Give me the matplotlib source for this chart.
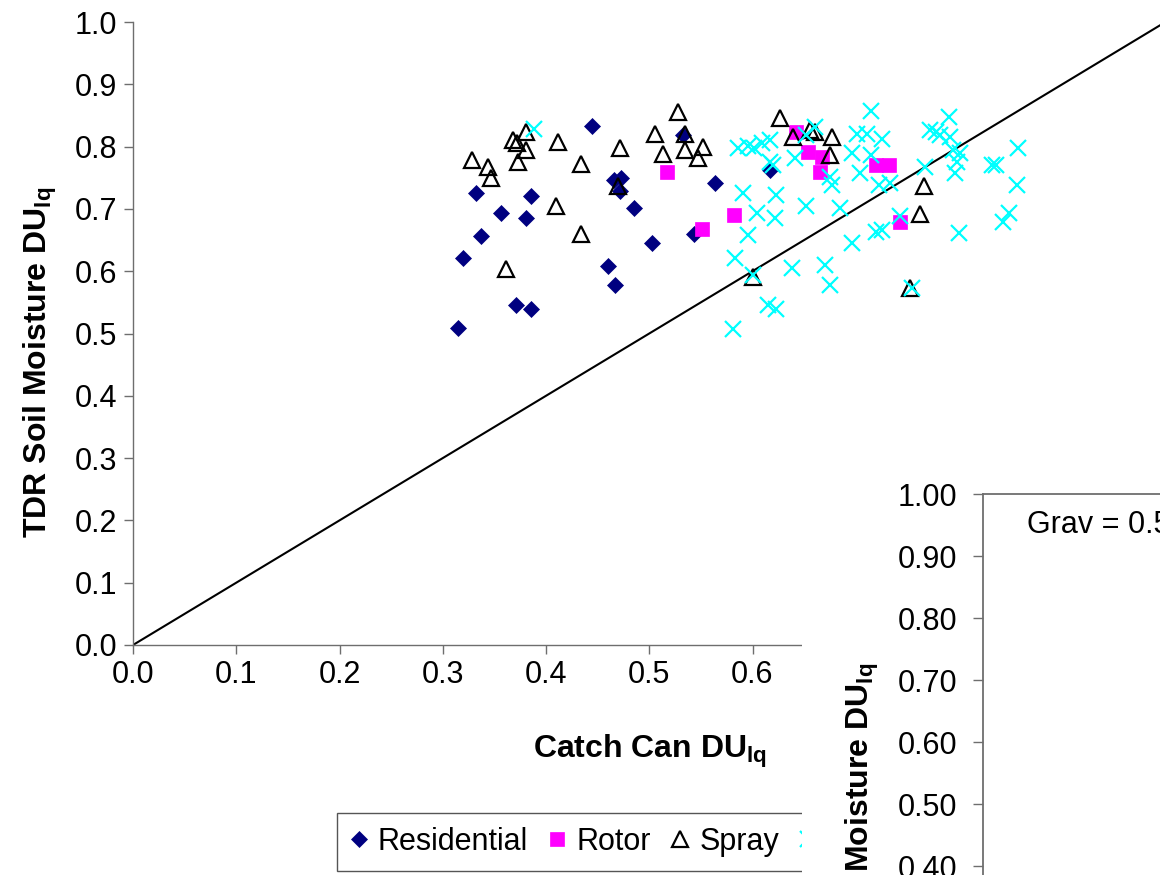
import matplotlib
matplotlib.use('Agg')
import matplotlib.pyplot as plt
from matplotlib.patches import Rectangle

plt.rcParams['font.family'] = ['Liberation Sans', 'DejaVu Sans']
plt.rcParams['mathtext.fontset'] = 'custom'
plt.rcParams['mathtext.rm'] = 'Liberation Sans'
plt.rcParams['mathtext.bf'] = 'Liberation Sans:bold'

# ---------------- data ----------------
res_x = [0.445, 0.332, 0.385, 0.356, 0.381, 0.337, 0.320, 0.371, 0.385, 0.315,
         0.460, 0.467, 0.466, 0.473, 0.472, 0.485, 0.503, 0.564, 0.543, 0.617, 0.533]
res_y = [0.833, 0.725, 0.721, 0.693, 0.685, 0.657, 0.621, 0.546, 0.540, 0.509,
         0.609, 0.578, 0.746, 0.749, 0.728, 0.701, 0.645, 0.741, 0.659, 0.763, 0.819]

rot_x = [0.517, 0.551, 0.582, 0.642, 0.654, 0.667, 0.665, 0.720, 0.732, 0.743]
rot_y = [0.759, 0.667, 0.691, 0.824, 0.791, 0.784, 0.759, 0.770, 0.770, 0.679]

spr_x = [0.328, 0.344, 0.347, 0.368, 0.372, 0.381, 0.381, 0.373, 0.412, 0.434,
         0.410, 0.434, 0.361, 0.472, 0.528, 0.506, 0.513, 0.535, 0.535, 0.552,
         0.547, 0.470, 0.600, 0.627, 0.639, 0.656, 0.661, 0.677, 0.675, 0.766,
         0.762, 0.753]
spr_y = [0.778, 0.767, 0.750, 0.811, 0.805, 0.824, 0.795, 0.775, 0.808, 0.772,
         0.704, 0.659, 0.604, 0.797, 0.856, 0.820, 0.788, 0.820, 0.795, 0.800,
         0.782, 0.737, 0.591, 0.846, 0.816, 0.827, 0.824, 0.816, 0.787, 0.736,
         0.692, 0.573]

crs_x = [0.388, 0.586, 0.596, 0.601, 0.609, 0.617, 0.617, 0.620, 0.641, 0.661,
         0.652, 0.701, 0.711, 0.725, 0.696, 0.715, 0.704, 0.675, 0.677, 0.723,
         0.733, 0.591, 0.623, 0.652, 0.685, 0.604, 0.622, 0.596, 0.696, 0.720,
         0.725, 0.583, 0.638, 0.670, 0.675, 0.615, 0.623, 0.581, 0.715, 0.790,
         0.772, 0.778, 0.782, 0.791, 0.794, 0.801, 0.798, 0.767, 0.796, 0.857,
         0.832, 0.836, 0.856, 0.848, 0.843, 0.743, 0.800, 0.754, 0.600]
crs_y = [0.828, 0.797, 0.801, 0.797, 0.805, 0.811, 0.776, 0.770, 0.781, 0.832,
         0.819, 0.821, 0.821, 0.813, 0.789, 0.787, 0.757, 0.752, 0.738, 0.738,
         0.741, 0.725, 0.722, 0.704, 0.701, 0.693, 0.685, 0.658, 0.645, 0.663,
         0.666, 0.621, 0.605, 0.610, 0.578, 0.546, 0.540, 0.508, 0.857, 0.848,
         0.827, 0.824, 0.819, 0.816, 0.795, 0.789, 0.776, 0.768, 0.757, 0.797,
         0.770, 0.770, 0.738, 0.693, 0.679, 0.688, 0.661, 0.573, 0.594]

line_x = [0.0, 1.0]
line_y = [0.0, 1.0]

ticks_main = [0.0, 0.1, 0.2, 0.3, 0.4, 0.5, 0.6, 0.7, 0.8, 0.9, 1.0]
ticks_inset = [0.0, 0.1, 0.2, 0.3, 0.4, 0.5, 0.6, 0.7, 0.8, 0.9, 1.0]

# ---------------- layout helpers ----------------
W, H = 1160, 875
fig = plt.figure(figsize=(W / 100, H / 100), dpi=100)

def fx(px):
    return px / W

def fy(py):
    return 1 - py / H

GRAY = '#6e6e6e'
TICK_FS = 22
LABEL_FS = 23

# ---------------- main chart ----------------
x0, x1 = 133, 1165.5
y0, y1 = 645, 22
ax = fig.add_axes([fx(x0), fy(y0), (x1 - x0) / W, (y0 - y1) / H])
ax.set_xlim(0, 1)
ax.set_ylim(0, 1)
ax.set_xticks(ticks_main)
ax.set_yticks(ticks_main)
ax.set_xticklabels([f'{t:.1f}' for t in ticks_main])
ax.set_yticklabels([f'{t:.1f}' for t in ticks_main])
for s in ['top', 'right']:
    ax.spines[s].set_visible(False)
for s in ['left', 'bottom']:
    ax.spines[s].set_color(GRAY)
    ax.spines[s].set_linewidth(1.0)
ax.tick_params(axis='both', direction='out', length=6.5, width=1.0, color=GRAY,
               labelsize=TICK_FS)
ax.tick_params(axis='x', pad=4)
ax.tick_params(axis='y', pad=5)

ax.plot(line_x, line_y, color='black', lw=1.5, zorder=2)
h1, = ax.plot(res_x, res_y, ls='none', marker='D', ms=8, mfc='#000080', mec='#000080',
              mew=0.5, label='Residential', zorder=3)
h2, = ax.plot(rot_x, rot_y, ls='none', marker='s', ms=10, mfc='#FF00FF', mec='#FF00FF',
              mew=0.5, label='Rotor', zorder=4)
h3, = ax.plot(spr_x, spr_y, ls='none', marker='^', ms=11, mfc='none', mec='black',
              mew=1.6, label='Spray', zorder=5)
h4, = ax.plot(crs_x, crs_y, ls='none', marker='x', ms=11, mec='#00FFFF',
              mew=1.6, label='Sprinkler', zorder=6)

leg = ax.legend(handles=[h1, h2, h3, h4], loc='upper left',
                bbox_to_anchor=(fx(337), fy(813)), bbox_transform=fig.transFigure,
                borderaxespad=0, ncol=4, fontsize=22, handlelength=0.5,
                handletextpad=0.38, columnspacing=0.7, borderpad=0.46,
                fancybox=False, framealpha=1, edgecolor='#555555')
leg.get_frame().set_linewidth(1.0)

fig.text(fx(40), fy(362), r'TDR Soil Moisture DU$_{\mathbf{lq}}$', rotation=90,
         ha='center', va='center', fontsize=LABEL_FS, fontweight='bold')
fig.text(fx(650), fy(751), r'Catch Can DU$_{\mathbf{lq}}$', ha='center',
         va='center', fontsize=LABEL_FS, fontweight='bold')

# ---------------- overlapping second chart ----------------
cover = Rectangle((fx(802), 0), 1 - fx(802), fy(470), transform=fig.transFigure,
                  facecolor='white', edgecolor='none', zorder=1)
fig.add_artist(cover)

ix0, iy_top = 983, 494
iy_bot = iy_top + 620
inset = fig.add_axes([fx(ix0), fy(iy_bot), (1500 - ix0) / W, (iy_bot - iy_top) / H])
inset.set_zorder(2)
inset.set_ylim(0, 1)
inset.set_xlim(0, 1)
inset.set_yticks(ticks_inset)
inset.set_yticklabels([f'{t:.2f}' for t in ticks_inset])
inset.set_xticks([])
for s in inset.spines.values():
    s.set_color(GRAY)
    s.set_linewidth(1.3)
inset.tick_params(axis='y', direction='out', length=7.2, width=1.0, color=GRAY,
                  labelsize=TICK_FS, pad=11.5)
inset.text(fx(1027), fy(533), 'Grav = 0.5', transform=fig.transFigure,
           ha='left', va='baseline', fontsize=22, clip_on=False)

fig.text(fx(862), fy(663), r'TDR Soil Moisture DU$_{\mathbf{lq}}$', rotation=90,
         rotation_mode='anchor', ha='right', va='center', fontsize=LABEL_FS,
         fontweight='bold', zorder=5)

fig.savefig('out.png', dpi=100)
